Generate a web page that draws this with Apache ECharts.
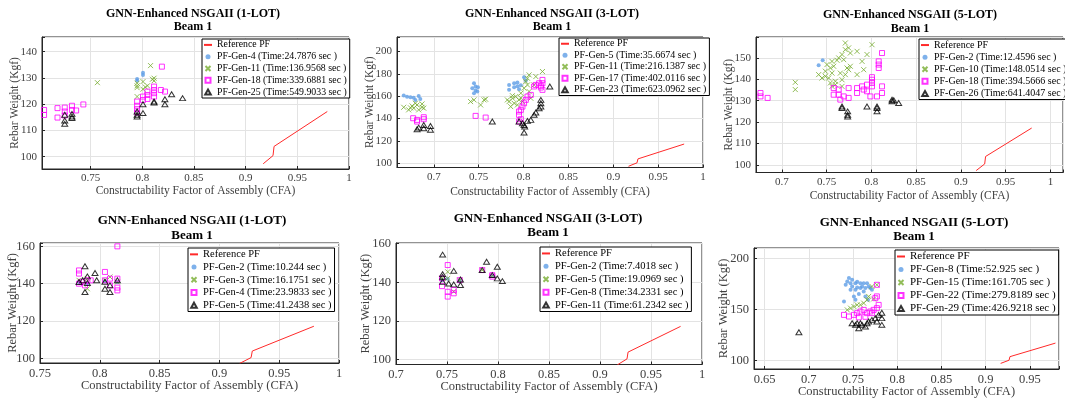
<!DOCTYPE html>
<html>
<head>
<meta charset="utf-8">
<script src="https://cdn.jsdelivr.net/npm/echarts@6/dist/echarts.min.js"></script>
<style>
  html, body { margin: 0; padding: 0; background: #fff; }
  #chart { width: 1065px; height: 404px; }
</style>
</head>
<body>
<div id="chart"></div>
<script>
// reference Pareto front (same in every panel)
const refPF = [[0.917, 97.3], [0.9265, 100.4], [0.9275, 103.9], [0.979, 117.2]];

// ---- top row, 1-LOT ----
const p1Names = ["PF-Gen-4 (Time:24.7876 sec )", "PF-Gen-11 (Time:136.9568 sec )", "PF-Gen-18 (Time:339.6881 sec )", "PF-Gen-25 (Time:549.9033 sec )"];
const p1Gen4 = [[0.795, 129.6], [0.795, 128.9], [0.8007, 132.0], [0.8007, 131.1]];
const p1Gen11 = [[0.7566, 128.2], [0.795, 128.0], [0.795, 127.0], [0.795, 126.3], [0.795, 122.9], [0.8007, 128.6], [0.8007, 125.7], [0.803, 126.5], [0.805, 127.0], [0.808, 134.7], [0.8098, 129.5], [0.8114, 129.9], [0.8114, 128.9]];
const p1Gen18 = [[0.705, 117.8], [0.705, 115.9], [0.718, 118.5], [0.718, 114.9], [0.725, 118.7], [0.725, 117.2], [0.725, 115.7], [0.732, 119.4], [0.732, 117.8], [0.736, 117.6], [0.743, 119.9], [0.795, 121.0], [0.795, 119.4], [0.795, 118.1], [0.795, 116.8], [0.8007, 122.9], [0.8007, 121.6], [0.805, 124.8], [0.805, 123.5], [0.805, 122.0], [0.8114, 126.7], [0.8114, 125.4], [0.8114, 124.2], [0.8114, 122.9], [0.818, 125.4], [0.819, 134.3], [0.822, 124.8]];
const p1Gen25 = [[0.725, 116.0], [0.725, 113.8], [0.725, 112.5], [0.732, 116.3], [0.732, 115.3], [0.732, 114.7], [0.795, 117.2], [0.795, 116.0], [0.795, 115.3], [0.8007, 116.6], [0.8007, 120.0], [0.8114, 121.0], [0.8114, 120.6], [0.8219, 121.9], [0.8219, 120.0], [0.8284, 123.8], [0.839, 122.3]];
const p1XTicks = [0.75, 0.8, 0.85, 0.9, 0.95, 1];
const p1YTicks = [100, 110, 120, 130, 140];

// ---- top row, 3-LOT ----
const p2Names = ["PF-Gen-5 (Time:35.6674 sec )", "PF-Gen-11 (Time:216.1387 sec )", "PF-Gen-17 (Time:402.0116 sec )", "PF-Gen-23 (Time:623.0962 sec )"];
const p2Gen5 = [[0.6665, 160.6], [0.6702, 159.6], [0.674, 159.1], [0.6776, 158.6], [0.6832, 160.1], [0.685, 157.6], [0.6795, 156.7], [0.7429, 167.2], [0.7448, 171.6], [0.7466, 168.7], [0.7485, 164.2], [0.7448, 162.7], [0.7466, 165.1], [0.7492, 168.1], [0.7839, 170.1], [0.7839, 165.7], [0.7895, 168.1], [0.7895, 171.6], [0.7932, 169.0], [0.795, 166.3], [0.7932, 172.2], [0.8006, 177.0], [0.797, 169.9], [0.8025, 174.0]];
const p2Gen11 = [[0.6665, 150.1], [0.672, 147.8], [0.6758, 151.3], [0.6776, 149.3], [0.6814, 152.2], [0.6832, 147.8], [0.6869, 153.1], [0.6888, 149.3], [0.6869, 150.1], [0.6795, 153.7], [0.674, 149.6], [0.741, 155.2], [0.7448, 156.7], [0.7522, 152.2], [0.756, 156.7], [0.7578, 157.3], [0.782, 156.7], [0.7839, 155.2], [0.7857, 150.7], [0.7876, 158.2], [0.7895, 153.7], [0.7913, 159.7], [0.7932, 152.2], [0.795, 156.7], [0.797, 162.7], [0.7988, 155.2], [0.8006, 167.2], [0.8025, 173.1], [0.8044, 176.1], [0.8062, 179.1], [0.8044, 170.1], [0.8062, 164.2], [0.8081, 158.2], [0.8118, 170.1], [0.8137, 177.6], [0.8211, 182.1], [0.7876, 160.5], [0.7969, 158.5]];
const p2Gen17 = [[0.677, 140.3], [0.6814, 138.8], [0.6888, 141.2], [0.6888, 139.4], [0.6814, 137.3], [0.7466, 142.4], [0.7578, 140.9], [0.795, 143.3], [0.795, 146.3], [0.797, 147.8], [0.7988, 150.7], [0.8006, 153.7], [0.8025, 156.7], [0.8044, 159.7], [0.8081, 161.2], [0.8118, 168.7], [0.8137, 170.1], [0.8174, 171.6], [0.8193, 169.3], [0.8193, 167.8], [0.8211, 174.6], [0.8211, 171.6], [0.8211, 165.7], [0.797, 139.4], [0.795, 137.3]];
const p2Gen23 = [[0.6814, 130.4], [0.6832, 131.9], [0.6888, 134.3], [0.6888, 131.3], [0.6963, 133.4], [0.6963, 129.9], [0.7652, 137.3], [0.795, 137.3], [0.7988, 135.8], [0.8006, 134.3], [0.8013, 132.8], [0.8006, 127.5], [0.8044, 137.9], [0.8081, 138.8], [0.8118, 143.3], [0.8137, 145.4], [0.8174, 149.3], [0.8193, 156.7], [0.8193, 153.7], [0.8193, 150.7], [0.8293, 168.7]];
const p2XTicks = [0.7, 0.75, 0.8, 0.85, 0.9, 0.95, 1];
const p2YTicks = [100, 120, 140, 160, 180, 200];

// ---- top row, 5-LOT ----
const p3Names = ["PF-Gen-2 (Time:12.4596 sec )", "PF-Gen-10 (Time:148.0514 sec )", "PF-Gen-18 (Time:394.5666 sec )", "PF-Gen-26 (Time:641.4047 sec )"];
const p3Gen2 = [[0.741, 146.6], [0.7455, 148.9]];
const p3Gen10 = [[0.7149, 138.6], [0.7149, 135.2], [0.741, 142.2], [0.7447, 140.6], [0.7485, 143.8], [0.7503, 146.9], [0.7522, 140.6], [0.7541, 145.3], [0.7559, 148.4], [0.7559, 142.9], [0.7578, 146.1], [0.7597, 139.1], [0.7597, 137.5], [0.7615, 148.9], [0.7634, 150.0], [0.7652, 142.9], [0.7671, 139.8], [0.7671, 151.6], [0.769, 149.2], [0.7708, 157.0], [0.7708, 153.9], [0.7708, 142.2], [0.7727, 145.3], [0.7745, 144.5], [0.7745, 154.7], [0.7764, 146.1], [0.7764, 152.3], [0.7839, 142.2], [0.7839, 153.1], [0.7895, 148.4], [0.7913, 144.5], [0.795, 151.6], [0.8006, 156.2], [0.7671, 136.7], [0.7485, 141.4], [0.7541, 138.3], [0.7559, 136.7]];
const p3Gen18 = [[0.676, 133.6], [0.676, 132.0], [0.684, 131.3], [0.7578, 135.9], [0.7578, 132.8], [0.7634, 135.2], [0.7634, 132.8], [0.7652, 130.5], [0.769, 132.0], [0.7745, 135.9], [0.7745, 131.3], [0.7839, 135.9], [0.7839, 133.6], [0.7895, 136.7], [0.7913, 135.2], [0.795, 137.5], [0.795, 134.4], [0.7988, 132.0], [0.8006, 139.8], [0.8006, 138.3], [0.8006, 136.7], [0.8062, 132.0], [0.8081, 148.4], [0.8081, 146.9], [0.8081, 145.3], [0.8118, 152.3], [0.8118, 136.7], [0.8118, 133.6], [0.8006, 141.0]];
const p3Gen26 = [[0.7671, 126.6], [0.7671, 127.3], [0.7734, 125.0], [0.7734, 123.4], [0.7734, 122.6], [0.795, 127.3], [0.8062, 127.3], [0.8062, 126.6], [0.8062, 125.0], [0.823, 130.5], [0.823, 129.7], [0.8249, 130.2], [0.8304, 128.9]];
const p3XTicks = [0.7, 0.75, 0.8, 0.85, 0.9, 0.95, 1];
const p3YTicks = [100, 110, 120, 130, 140, 150];

// ---- bottom row, 1-LOT ----
const p4Names = ["PF-Gen-2 (Time:10.244 sec )", "PF-Gen-3 (Time:16.1751 sec )", "PF-Gen-4 (Time:23.9833 sec )", "PF-Gen-5 (Time:41.2438 sec )"];
const p4Gen2 = [[0.7826, 140.9], [0.7896, 140.0], [0.8043, 141.3], [0.8147, 140.9]];
const p4Gen3 = [[0.7826, 141.8], [0.7896, 142.7], [0.8043, 141.8], [0.8085, 143.6], [0.8147, 140.9], [0.7896, 137.3]];
const p4Gen4 = [[0.7826, 147.1], [0.7826, 145.4], [0.7826, 140.0], [0.7876, 139.1], [0.7896, 141.8], [0.7924, 141.8], [0.7848, 141.0], [0.8043, 146.3], [0.8043, 141.8], [0.8085, 142.7], [0.8085, 139.1], [0.8147, 160.0], [0.8147, 142.7], [0.8147, 137.9], [0.8147, 136.4]];
const p4Gen5 = [[0.7826, 140.9], [0.7876, 149.3], [0.7876, 135.5], [0.7896, 143.9], [0.796, 145.7], [0.7974, 141.8], [0.8043, 137.3], [0.8085, 135.5], [0.8085, 139.1], [0.8147, 141.8], [0.7896, 140.4], [0.7857, 141.8], [0.8043, 141.0]];
const p4XTicks = [0.75, 0.8, 0.85, 0.9, 0.95, 1];
const p4YTicks = [100, 120, 140, 160];

// ---- bottom row, 3-LOT ----
const p5Names = ["PF-Gen-2 (Time:7.4018 sec )", "PF-Gen-5 (Time:19.0969 sec )", "PF-Gen-8 (Time:34.2331 sec )", "PF-Gen-11 (Time:61.2342 sec )"];
const p5Gen2 = [[0.7451, 141.1], [0.7507, 141.8], [0.7625, 140.8], [0.7944, 143.2]];
const p5Gen5 = [[0.7451, 142.0], [0.7507, 145.4], [0.7507, 142.0], [0.7566, 135.2], [0.7625, 141.1], [0.7845, 146.3], [0.7944, 143.4]];
const p5Gen8 = [[0.7451, 142.0], [0.7451, 138.0], [0.7507, 148.9], [0.7507, 132.6], [0.7507, 135.1], [0.7566, 136.0], [0.7566, 134.3], [0.7625, 141.1], [0.7845, 146.3], [0.7944, 143.7], [0.7944, 142.9]];
const p5Gen11 = [[0.7457, 154.3], [0.7457, 144.2], [0.7457, 142.8], [0.7457, 140.3], [0.7516, 139.4], [0.7566, 145.9], [0.7566, 138.9], [0.7632, 141.4], [0.7632, 138.6], [0.7888, 150.6], [0.7993, 148.0], [0.7993, 142.0], [0.8043, 140.6], [0.7944, 143.7], [0.7845, 146.3]];
const p5XTicks = [0.7, 0.75, 0.8, 0.85, 0.9, 0.95, 1];
const p5YTicks = [100, 120, 140, 160];

// ---- bottom row, 5-LOT ----
const p6Names = ["PF-Gen-8 (Time:52.925 sec )", "PF-Gen-15 (Time:161.705 sec )", "PF-Gen-22 (Time:279.8189 sec )", "PF-Gen-29 (Time:426.9218 sec )"];
const p6Gen8 = [[0.7398, 158.0], [0.7417, 174.4], [0.7435, 177.7], [0.7454, 181.0], [0.7472, 176.0], [0.7472, 169.5], [0.749, 179.3], [0.749, 172.8], [0.751, 163.0], [0.7528, 176.0], [0.7528, 169.5], [0.7547, 177.4], [0.7547, 171.8], [0.7566, 165.3], [0.7584, 176.0], [0.7584, 171.2], [0.7603, 172.8], [0.7621, 176.0], [0.7621, 167.9], [0.764, 171.2], [0.764, 163.0], [0.7659, 176.0], [0.7677, 172.8], [0.7696, 171.2], [0.7714, 169.5], [0.767, 159.7], [0.7528, 159.7]];
const p6Gen15 = [[0.7435, 149.8], [0.7472, 151.5], [0.751, 153.1], [0.7547, 154.7], [0.7584, 154.7], [0.7621, 156.4], [0.7659, 159.7], [0.7677, 163.0], [0.7714, 172.8], [0.777, 174.4], [0.7733, 160.5]];
const p6Gen22 = [[0.7398, 144.9], [0.7454, 143.3], [0.751, 144.9], [0.7547, 146.6], [0.7584, 148.2], [0.7621, 149.8], [0.7659, 146.6], [0.7696, 148.2], [0.7733, 149.8], [0.7752, 161.3], [0.777, 174.4], [0.777, 163.0], [0.779, 154.7], [0.777, 151.5], [0.7714, 146.6], [0.764, 143.0], [0.7566, 142.5]];
const p6Gen29 = [[0.6888, 127.9], [0.749, 136.7], [0.7528, 135.1], [0.7565, 131.8], [0.7603, 135.1], [0.764, 133.4], [0.7677, 138.4], [0.7714, 140.0], [0.7752, 141.7], [0.779, 144.9], [0.7826, 146.9], [0.7826, 141.7], [0.7826, 135.1], [0.7659, 136.7], [0.7584, 136.7], [0.7547, 136.7], [0.777, 138.4]];
const p6XTicks = [0.65, 0.7, 0.75, 0.8, 0.85, 0.9, 0.95];
const p6YTicks = [100, 150, 200];

const FONT = "'Liberation Serif', 'Times New Roman', serif";
// path symbols keep their aspect in the legend too
const markers = [
  { symbol: "path://M0,5A5,5 0 1,0 10,5A5,5 0 1,0 0,5Z", symbolSize: 4, itemStyle: { color: "#5e9de6" } },
  { symbol: "path://M0,0L10,10M10,0L0,10", symbolSize: 5, itemStyle: { color: "rgba(0,0,0,0)", borderColor: "#77ac30", borderWidth: 1 } },
  { symbol: "path://M0,0L10,0L10,10L0,10Z", symbolSize: 5, itemStyle: { color: "rgba(0,0,0,0)", borderColor: "#ff00ff", borderWidth: 1 } },
  { symbol: "path://M5,0L10,9L0,9Z", symbolSize: [6, 5.5], itemStyle: { color: "rgba(0,0,0,0)", borderColor: "#000", borderWidth: 1 } },
];

// layout of the six panels (pixels)
const panels = [
  { title: "GNN-Enhanced NSGAII (1-LOT)", tx: 193, ty: 7, tfs: 12, tlh: 13.5,
    grid: [42, 37, 307, 132], x: [0.703, 1.0], y: [95.3, 145.6], ysplit: 5, xTicks: p1XTicks, yTicks: p1YTicks,
    lg: [202, 39, 9.8, 11.8], names: p1Names, sets: [p1Gen4, p1Gen11, p1Gen18, p1Gen25],
    tick: 11, nameFs: 11.5, xGap: 16, yGap: 21 },
  { title: "GNN-Enhanced NSGAII (3-LOT)", tx: 552, ty: 7, tfs: 12, tlh: 13,
    grid: [397, 37, 306, 130.5], x: [0.659, 1.0], y: [96.2, 213], ysplit: 5, xTicks: p2XTicks, yTicks: p2YTicks,
    lg: [559, 38, 10, 11.5], names: p2Names, sets: [p2Gen5, p2Gen11, p2Gen17, p2Gen23],
    tick: 11, nameFs: 11.5, xGap: 18, yGap: 21 },
  { title: "GNN-Enhanced NSGAII (5-LOT)", tx: 910, ty: 8, tfs: 12, tlh: 14,
    grid: [756, 37, 307, 135.5], x: [0.671, 1.014], y: [96.4, 159.8], ysplit: 5, xTicks: p3XTicks, yTicks: p3YTicks,
    lg: [919, 39, 10, 12.1], names: p3Names, sets: [p3Gen2, p3Gen10, p3Gen18, p3Gen26],
    tick: 11, nameFs: 11.5, xGap: 17, yGap: 21 },
  { title: "GNN-Enhanced NSGAII (1-LOT)", tx: 192, ty: 213, tfs: 13, tlh: 15.3,
    grid: [40, 243, 299, 120], x: [0.75, 1.0], y: [97.5, 161.8], ysplit: 3, xTicks: p4XTicks, yTicks: p4YTicks,
    lg: [188, 248, 10.5, 12.7], names: p4Names, sets: [p4Gen2, p4Gen3, p4Gen4, p4Gen5],
    tick: 12.5, nameFs: 12.5, xGap: 16, yGap: 21 },
  { title: "GNN-Enhanced NSGAII (3-LOT)", tx: 548, ty: 211, tfs: 13, tlh: 14.4,
    grid: [396, 243, 306, 121.5], x: [0.7, 1.0], y: [97.5, 160.3], ysplit: 3, xTicks: p5XTicks, yTicks: p5YTicks,
    lg: [540, 247, 10.5, 12.9], names: p5Names, sets: [p5Gen2, p5Gen5, p5Gen8, p5Gen11],
    tick: 12.5, nameFs: 12.5, xGap: 16, yGap: 24 },
  { title: "GNN-Enhanced NSGAII (5-LOT)", tx: 914, ty: 216, tfs: 13, tlh: 14,
    grid: [754, 248, 305, 121], x: [0.638, 0.983], y: [91.8, 210.5], ysplit: 2, xTicks: p6XTicks, yTicks: p6YTicks,
    lg: [895, 250, 11, 13], names: p6Names, sets: [p6Gen8, p6Gen15, p6Gen22, p6Gen29],
    tick: 12.5, nameFs: 12.5, xGap: 16, yGap: 24 },
];

function tickFormatter(ticks) {
  return (v) => {
    const t = ticks.find((k) => Math.abs(k - v) < 1e-6);
    return t === undefined ? "" : String(t);
  };
}

const grid = [], xAxis = [], yAxis = [], title = [], legend = [], series = [];

panels.forEach((p, i) => {
  grid.push({
    left: p.grid[0], top: p.grid[1], width: p.grid[2], height: p.grid[3],
    containLabel: false, outerBoundsMode: "none",
    show: true, borderColor: "#262626", borderWidth: 1,
  });
  const labelStyle = { fontFamily: FONT, fontSize: p.tick, color: "#404040", hideOverlap: false };
  const nameStyle = { fontFamily: FONT, fontSize: p.nameFs, color: "#404040" };
  xAxis.push({
    gridIndex: i, type: "value", min: p.x[0], max: p.x[1], splitNumber: 5,
    name: "Constructability Factor of Assembly (CFA)", nameLocation: "middle", nameGap: p.xGap,
    nameMoveOverlap: false, nameTextStyle: nameStyle,
    axisLine: { show: true, onZero: false, lineStyle: { color: "#262626" } },
    axisTick: { show: true, inside: true, length: 3, lineStyle: { color: "#262626" } },
    splitLine: { show: true, lineStyle: { color: "#e3e3e3", width: 1 } },
    axisLabel: Object.assign({ margin: 4, formatter: tickFormatter(p.xTicks) }, labelStyle),
  });
  yAxis.push({
    gridIndex: i, type: "value", min: p.y[0], max: p.y[1], splitNumber: p.ysplit,
    name: "Rebar Weight (Kgf)", nameLocation: "middle", nameGap: p.yGap,
    nameMoveOverlap: false, nameTextStyle: nameStyle,
    axisLine: { show: true, onZero: false, lineStyle: { color: "#262626" } },
    axisTick: { show: true, inside: true, length: 3, lineStyle: { color: "#262626" } },
    splitLine: { show: true, lineStyle: { color: "#e3e3e3", width: 1 } },
    axisLabel: Object.assign({ margin: 5, formatter: tickFormatter(p.yTicks) }, labelStyle),
  });
  title.push({
    text: p.title + "\nBeam 1", left: p.tx, top: p.ty, textAlign: "center", padding: 0,
    textStyle: { fontFamily: FONT, fontWeight: "bold", fontSize: p.tfs, lineHeight: p.tlh, color: "#000" },
  });
  legend.push({
    left: p.lg[0], top: p.lg[1], orient: "vertical", selectedMode: false,
    data: [{ name: "Reference PF", itemStyle: { color: "rgba(0,0,0,0)", borderWidth: 0 } }].concat(p.names),
    itemWidth: 8, itemHeight: 5, itemGap: 0, padding: [0, 3, 0, 1], symbolKeepAspect: true,
    borderColor: "#000", borderWidth: 1, backgroundColor: "#fff",
    textStyle: { fontFamily: FONT, fontSize: p.lg[2], lineHeight: p.lg[3], color: "#000" },
  });
  series.push({
    name: "Reference PF", type: "line", xAxisIndex: i, yAxisIndex: i, data: refPF,
    symbol: "none", lineStyle: { color: "#ff2a2a", width: 1 }, itemStyle: { color: "#ff2a2a" }, silent: true,
  });
  p.sets.forEach((set, k) => {
    series.push(Object.assign({
      name: p.names[k], type: "scatter", xAxisIndex: i, yAxisIndex: i, data: set, silent: true,
      symbolKeepAspect: true,
    }, markers[k]));
  });
});

const chart = echarts.init(document.getElementById("chart"));
chart.setOption({ animation: false, backgroundColor: "#fff", title, grid, xAxis, yAxis, legend, series });
</script>
</body>
</html>
